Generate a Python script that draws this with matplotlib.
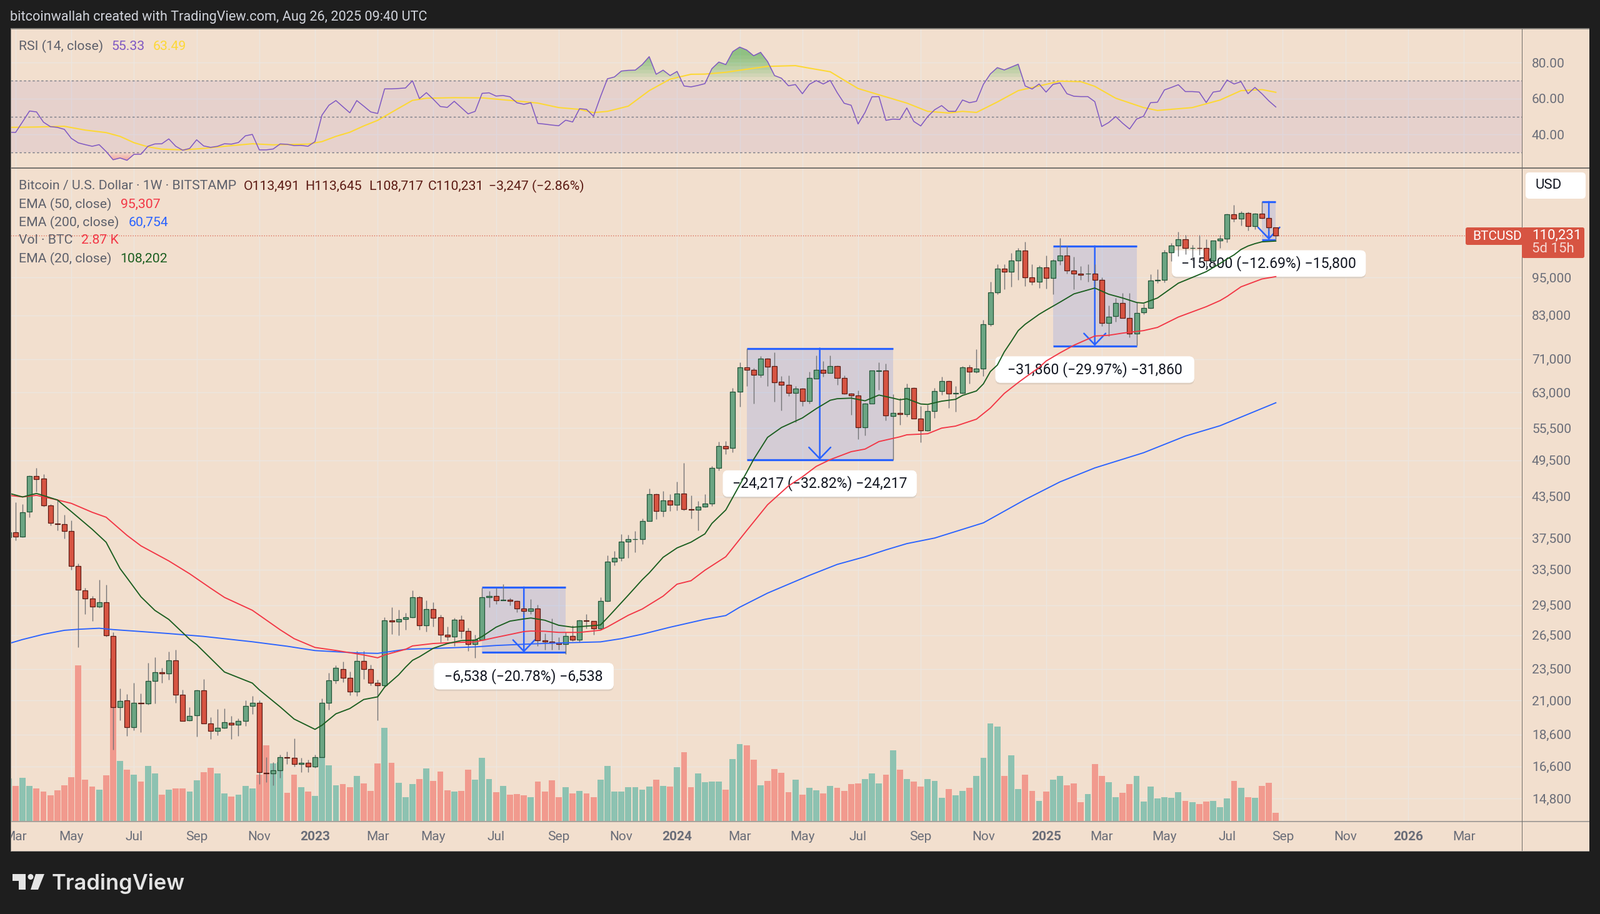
import numpy as np
import matplotlib
matplotlib.use("Agg")
import matplotlib.pyplot as plt
from matplotlib.patches import Rectangle, FancyBboxPatch, Polygon, Circle
from matplotlib.ticker import FixedLocator, FixedFormatter, NullLocator
from matplotlib import patheffects as pe

plt.rcParams["font.family"] = "Roboto"

# weekly bars, index 0 = week of 2023-01-02
first_week = -44
opens = [37560,38290,37680,41200,46740,46400,42100,39500,39350,38400,
33900,31100,30190,29370,29800,26450,20520,21000,19100,20830,
20780,22500,23200,23100,24250,21450,19540,19910,21750,19360,
18830,19050,19370,19240,19520,20570,20810,16230,16190,16370,
17150,17110,16730,16820,16590,17160,20810,22570,23500,22780,
21680,24150,23480,22380,22140,27930,27850,28050,28240,30350,
27420,29100,28280,26550,26370,27980,26900,25660,26060,30330,
30470,30040,30110,29970,29150,28900,29150,26000,25920,25800,
25680,26440,26090,27950,27860,27120,29950,34430,34920,36980,
37300,37350,39850,43820,41300,42900,42200,43900,41550,41450,
41900,42400,48200,52060,51700,63200,68970,68290,67100,71140,
69250,65500,64750,62880,63840,61150,66300,68380,67600,69300,
66400,62800,62300,55650,60600,68000,68100,57950,58550,58300,
64000,57400,55000,59000,63400,65700,62800,62900,68900,67800,
68700,80450,90000,98000,97000,101000,104700,95000,93600,98600,
94800,101000,102800,97500,96400,96300,96350,94100,80800,82700,
86800,82300,77800,83800,85200,93900,94300,104000,106500,108900,
105500,105600,105500,100900,108300,109200,119000,117200,119600,114200,
119200,117400,113491]
highs = [45400,42570,42300,46900,48200,47100,42300,42900,40700,39900,
34200,31400,30500,32300,31700,26800,21900,21500,22350,21550,
24000,24500,23600,25000,25150,21800,20500,21800,22650,19800,
20350,20400,19880,19700,21000,21350,21000,17150,16850,17300,
17500,18350,17100,17000,17300,21150,23180,23800,24100,23300,
25050,25050,23850,22600,28250,29260,29050,28700,31100,30500,
30000,29800,28500,27350,28200,28450,27200,26520,31400,31000,
31400,31800,30300,30000,29400,30150,29550,26650,28150,26300,
26800,27420,28000,28600,27900,30350,35200,35780,37980,37950,
38400,40200,44700,43900,44300,43800,45800,49000,43640,42800,
43800,48500,52900,53000,64000,70200,73670,68800,71700,71300,
72650,66800,67000,64550,64000,67800,71900,70500,71900,69400,
67000,62900,63500,60700,68250,70200,69900,62700,61800,65000,
64200,60000,60300,64000,66700,65750,64450,69300,69500,73600,
81600,93500,99600,99600,103600,105500,107900,99700,99200,102700,
101500,109400,106400,102300,98900,99500,99700,95000,85900,88300,
89800,89800,86900,86500,96000,97900,104900,107500,111900,110700,
106800,110500,109000,108500,110500,119400,123200,120500,120000,119500,
124450,117600,113645]
lows = [37100,37190,37560,40400,44200,41900,39200,38500,37400,33500,
25400,28550,27900,29200,26400,17600,19560,18510,18860,18760,
20700,20760,22350,22600,20800,19500,19500,18470,19340,18280,
18530,19020,18300,18510,19170,20020,15590,15700,15500,15950,
16730,16600,16240,16270,16500,17150,20300,22300,22400,21400,
21350,22650,22170,19550,22000,26600,26500,27050,28200,27000,
26850,27350,25830,26000,25500,26200,25050,24450,26000,29300,
29620,30000,29450,28780,28570,28600,25480,25160,25160,25160,
24780,25980,25850,27130,26530,27050,29900,34000,34500,34920,
35600,36700,39800,40100,40500,41250,41400,41400,40180,38500,
41800,42000,47700,50600,50900,59850,64450,60600,66500,64450,
61000,59100,62200,56700,60000,60600,66200,66700,67500,64800,
62700,58150,53400,54100,60550,63570,57000,49600,56200,57800,
57400,52700,54900,57500,62500,59700,58900,62800,65000,67550,
66800,79800,89400,91000,92000,94300,92200,92500,91500,91400,
89500,99400,96250,91100,94100,93500,92000,79900,77000,81200,
82200,76700,74500,83400,85100,93100,93300,100800,102600,103200,
101000,102900,98300,99000,105500,107800,115900,114300,112300,112800,
117300,112400,108717]
closes = [38290,37640,41100,46740,46300,42100,39600,39350,38400,33900,
31200,30190,29370,29800,26500,20520,20980,19100,20800,20780,
22500,23240,23100,24250,21450,19520,19880,21750,19360,18850,
19040,19420,19240,19500,20570,20810,16240,16190,16370,17150,
17110,16730,16800,16590,17150,20810,22570,23600,22780,21680,
24150,23480,22380,22140,27940,27850,28080,28240,30350,27420,
29100,28180,26550,26370,27980,26900,25660,26060,30330,30470,
30040,30110,29970,29150,28900,29150,26000,25930,25800,25680,
26440,26090,27950,27860,27120,29940,34430,34920,36980,37300,
37350,39850,43820,41300,42900,42200,43900,41600,41450,41900,
42400,48200,52060,51610,63200,68970,68290,67100,71140,69140,
65400,64700,62880,63840,61150,66350,68380,67600,69300,66400,
62800,62300,55660,60600,68100,68100,58000,58550,58300,64000,
57450,55000,59000,63400,65600,62800,62900,68900,67800,68700,
80450,90000,98000,97000,101000,104700,95000,93600,98430,94800,
101000,102800,97500,96250,95850,96350,94100,80800,82500,86800,
82300,77700,83700,85200,93900,94300,104000,106500,108900,105500,
105600,105500,100900,108300,109200,119000,117200,119600,114200,119200,
117500,113500,110231]
volumes = [13.8,11.4,14.0,11.4,10.7,9.7,8.5,10.1,11.7,14.3,
50,13.5,11.2,10.3,14.8,52.2,19.4,16.6,15.1,12.9,
17.9,15.5,8.7,10.3,10.7,10.7,9.6,13.3,15.8,17.3,
15.5,9.1,8.0,8.7,11.4,10.7,15,24.4,18.6,19,
9.3,15,11,9.7,8.3,20.6,18.1,11.6,12,11.1,
14.6,12.2,9.8,18.6,30,18.8,12.5,7.8,12,13.7,
17,13,16,10.1,9.6,9.9,16.6,13.4,20.5,13.7,
9.4,11.5,8.7,8.9,8.5,7.8,12.8,9.6,13.2,7.8,
11,9,9.8,9.1,7.8,13.5,17.9,9.6,9.7,11,
11,10.3,11.2,13.5,11.5,11.2,17.4,22.2,11,15.4,
12.6,12.8,12.8,10.3,20.1,24.8,24.5,19.8,11.7,13,
16.9,15.7,9.5,13.4,8.7,10.9,10,9.1,11.5,10.8,
9.8,12.1,12.3,13.6,15.5,12.3,15.1,22.9,16.6,13.7,
12.8,11.2,13.7,13,7.6,10.4,8.5,9.8,10.8,14.7,
20.5,31.4,30.5,14.6,21.3,10.4,15.1,9.8,6.7,9.7,
13.4,14.7,11.7,12.3,6.3,8.9,18.5,14.7,12.7,7.9,
9.3,12.1,14.7,6.5,11.3,7.4,7.9,7.7,9.5,6.7,
6.3,5.7,6.5,6.7,4.6,7.4,13.1,10.9,7.9,7.7,
11.5,12.5,2.87]
rsi_values = [41.3,41.2,47.1,53.1,52.6,46.9,44.4,44,42.9,37.9,
35.4,34.4,33.5,34.4,30.6,26,27,25.7,29,29.1,
33.5,34.8,34.9,37.6,33.5,31.3,32.3,37.1,33.7,32.9,
33.5,34.9,34.7,35.6,39.3,40.1,31.5,31.5,32,34.8,
34.6,33.9,34,33.5,36.1,50.8,56.3,58.9,55.5,52.1,
58.9,55.8,52.6,51.7,65.4,65.4,65.6,65.9,69.9,60,
63.3,59.6,55.6,55.1,58.5,55,51.5,52.9,62.9,63.2,
61.4,61.7,61,57.7,56.8,57.7,46.2,45.8,45.3,44.9,
48,47,54.4,54,50.2,61,71,72,75.3,75.7,
75.8,78.9,83.3,73.5,75.8,72.8,75.1,67,66.5,67.3,
68.3,76.6,80.3,78.9,86.1,88.6,87,83.8,85.7,80.6,
72.8,71.3,67.1,67.8,62.7,67.9,70,68.1,70.1,63.3,
57.4,56.3,45.9,52.3,61,61.1,47.9,48.6,48.4,54.8,
47.3,44.8,50,53.8,56.1,52.9,52.9,59.2,57.7,58.5,
67.9,73.7,77.2,75.9,77.5,79.1,67,65.3,68.1,63.6,
67.9,68.7,62.7,61.3,61.1,61.1,58.3,44.5,46.7,50,
46.3,43.1,48.6,50.2,57.7,58,64.8,66.2,67.7,63.9,
63.9,63.6,57.8,63.6,64.2,70.3,68.1,69.4,62.7,66.2,
62.7,58.7,55.33]

rsi_ma_weeks = [-44,-40,-36,-33,-30,-28,-26,-24,-22,-19,-16,-13,-9,-6,-1,1,3,5,7,9,12,14,16,20,24,28,32,35,38,40,42,45,
48,51,54,56,59,62,65,69,71,74,76,78,81,85,88,91,93,95,98,101,105,107,110,112,115,119,121,126,130,133,136,138]
rsi_ma_values = [44,44.2,44.6,42.5,41.1,39,35.5,33.2,31.9,31.5,32.3,33.5,34.9,34.3,34.7,36.1,39,41.3,44.8,47.9,54.6,59,60.2,60.5,60.4,59,57.5,55,54,52.2,52.9,55.8,
64.4,70.8,73.5,73.6,74.6,76.3,77.9,78.3,76.9,74.9,70.2,65.6,62.1,57.5,52.9,52,52.9,52.3,58.1,64.4,67.9,69.7,69.4,66.8,60.2,55,53.4,55,59.2,64.4,65,63.49]

ema20_weeks = [-44,-42,-40,-37,-35,-32,-30,-28,-27,-25,-23,-21,-18,-17,-15,-13,-10,-9,-8,-5,-3,0,1,3,5,7,9,10,12,13,14,15,17,19,21,23,24,26,28,30,31,33,35,37,40,41,42,45,47,48,50,52,54,56,57,59,62,63,65,67,70,72,74,75,77,79,81,83,84,85,87,88,90,92,93,95,96,97,98,99,100,101,102,104,105,107,109,112,114,116,118,119,121,124,127,128,130,131,132,133,134,135,136,138]
ema20_values = [44000,43410,43960,42950,41200,38680,36930,33620,32520,30400,28960,28040,26120,25630,24410,23240,22560,22340,21810,20520,19650,18940,19220,20020,20400,21070,21270,22020,23000,23640,24230,24540,25300,25720,26000,26040,26380,27270,27870,28090,28180,27960,27460,27270,27430,27490,28200,30580,32310,33100,35000,36190,36940,38050,39490,41440,47400,49640,53700,55620,57550,59500,61300,61640,61770,61180,62450,61770,61400,61640,60490,60400,61100,61500,62370,63370,65000,67920,69500,72860,75620,78600,80400,83300,84550,87000,89600,91500,89500,88300,86900,86700,88300,93100,96000,97000,99900,101500,103000,105000,106300,107200,107900,108202]

ema50_weeks = [-44,-42,-40,-37,-35,-32,-30,-27,-25,-21,-18,-15,-13,-9,-5,-3,0,3,7,9,10,13,14,17,20,23,26,28,30,31,33,35,38,41,42,45,47,50,52,54,56,59,62,65,68,70,72,74,77,79,81,84,85,88,90,92,95,97,99,101,102,104,105,107,109,112,114,116,119,121,124,128,130,131,133,136,138]
ema50_values = [43660,43420,43660,42950,42430,41100,40380,37850,36460,34550,33000,31350,30330,28970,27020,26180,25370,25100,24700,24450,24700,25200,25510,25730,25820,25880,26300,26570,26850,26900,26880,26770,26770,26980,27300,28460,29100,30470,31800,32190,33420,35070,38500,42220,45150,46640,48420,49600,51020,51500,52900,53800,54190,54400,55500,55900,57300,59630,62810,65300,66500,68900,70500,72600,74600,77100,77300,77900,78600,79500,82500,85600,87500,88800,91900,94500,95307]

ema200_weeks = [-44,-42,-39,-36,-34,-31,-29,-26,-21,-16,-9,-4,0,6,9,13,17,23,26,31,35,41,44,47,51,56,59,61,65,71,75,79,82,85,89,96,102,107,112,119,125,130,138]
ema200_values = [25720,26100,26590,26970,27070,27170,27040,26900,26660,26390,25890,25480,25090,24880,24840,25200,25280,25420,25550,25690,25780,25880,26180,26600,27270,28050,28430,29290,30800,32810,34120,35070,35940,36750,37490,39580,43010,45810,48150,50830,53940,55980,60754]

price_ticks = [95000,83000,71000,63000,55500,49500,43500,37500,33500,29500,26500,23500,21000,18600,16600,14800]
rsi_ticks = [80,60,40]
month_weeks = [-43,-35,-26,-17,-8,0,9,17,26,35,44,52,61,70,78,87,96,105,113,122,131,139,148,157,165]
month_labels = ["Mar","May","Jul","Sep","Nov","2023","Mar","May","Jul","Sep","Nov","2024","Mar","May","Jul","Sep","Nov","2025","Mar","May","Jul","Sep","Nov","2026","Mar"]

# measured drawdowns
drop_start = [24,62,106,136]
drop_end = [36,83,118,138]
drop_top = [31463,73788,106306,124507]
drop_bottom = [24925,49571,74446,108707]
drop_text = ["\u22126,538 (\u221220.78%) \u22126,538","\u221224,217 (\u221232.82%) \u221224,217",
             "\u221231,860 (\u221229.97%) \u221231,860","\u221215,800 (\u221212.69%) \u221215,800"]
drop_label_width = [287, 310, 318, 310]

W, H = 2560, 1463
BG = "#f2dfce"; DARK = "#1e1e1e"; GRID = "#ece6e0"; BORDER = "#8a8680"
UP = "#6ba583"; DN = "#d75442"; UPE = "#225437"; DNE = "#5b1a13"; WICK = "#737375"
VUP = "#8dc2b1"; VDN = "#f19a8e"
BLUE = "#2962ff"; RED = "#f23645"; GREEN = "#1b5e20"; PURPLE = "#7e57c2"; YELLOW = "#fdd835"
LBL = "#5d606b"; AX = "#6a6d78"

fig = plt.figure(figsize=(W/100, H/100), dpi=100, facecolor=DARK)
def rect(x0, y0, x1, y1):
    return [x0/W, 1-y1/H, (x1-x0)/W, (y1-y0)/H]
def fp(x, y):
    return x/W, 1-y/H

fig.add_artist(Rectangle(fp(17,1362), (2543-17)/W, (1362-46)/H, transform=fig.transFigure, fc=BG, ec="none", zorder=-5))

PX0, PX1 = 17, 2435
xlim = ((PX0-504)/11.14, (PX1-504)/11.14)
weeks = np.arange(first_week, first_week+len(closes))
o, h, l, c = map(np.array, (opens, highs, lows, closes))
v = np.array(volumes)
up = c >= o

# RSI pane
ar = fig.add_axes(rect(PX0, 46, PX1, 269), facecolor="none")
ar.set_xlim(*xlim); ar.set_ylim(21.4, 98.8)
ar.axhspan(30, 70, color=PURPLE, alpha=0.10, lw=0, zorder=1)
for lev in (70, 50, 30):
    ar.axhline(lev, color="#787b86", lw=1.0, ls=(0, (2.5, 2.5)), zorder=2)
rs = np.array(rsi_values, float)
for th in (70, 72, 74, 76, 78, 80, 82, 84):
    ar.fill_between(weeks, th, rs, where=rs > th, interpolate=True, color="#4caf50", alpha=0.10, lw=0, zorder=2)
for th in (30, 29, 28, 27):
    ar.fill_between(weeks, rs, th, where=rs < th, interpolate=True, color="#f23645", alpha=0.08, lw=0, zorder=2)
ar.plot(weeks, rs, color=PURPLE, lw=1.1, zorder=4)
ar.plot(rsi_ma_weeks, rsi_ma_values, color=YELLOW, lw=1.5, zorder=3)
ar.yaxis.tick_right()
ar.set_yticks(rsi_ticks); ar.set_yticklabels([f"{t:.2f}" for t in rsi_ticks], fontsize=15, color=AX)
ar.tick_params(axis="y", length=0, pad=11.5)
ar.set_xticks(month_weeks); ar.tick_params(axis="x", length=0, labelbottom=False)
ar.grid(True, color=GRID, lw=1); ar.set_axisbelow(True)
for s in ar.spines.values():
    s.set_visible(False)

# price pane
ax = fig.add_axes(rect(PX0, 269, PX1, 1315), facecolor="none")
ax.set_yscale("log")
ax.set_xlim(*xlim)
ax.set_ylim(13630, 140400)

# volume scale shares the x axis
av = ax.twinx(); av.set_ylim(0, 209.2); av.set_axis_off()
ax.bar(weeks, v, width=0.88, bottom=0, color=[VUP if u else VDN for u in up], lw=0, zorder=2, transform=av.transData, clip_on=True)
ax.set_xlim(*xlim); ax.set_ylim(13630, 140400)

ax.yaxis.tick_right()
ax.yaxis.set_major_locator(FixedLocator(price_ticks))
ax.yaxis.set_major_formatter(FixedFormatter([f"{t:,}" for t in price_ticks]))
ax.yaxis.set_minor_locator(NullLocator())
ax.tick_params(axis="y", which="both", length=0, pad=11.5, labelsize=15, labelcolor=AX)
ax.set_xticks(month_weeks); ax.set_xticklabels(month_labels, fontsize=15, color=AX)
for lab, txt in zip(ax.get_xticklabels(), month_labels):
    if txt.startswith("20"):
        lab.set_fontweight("bold")
ax.tick_params(axis="x", length=0, pad=11)
ax.grid(True, color=GRID, lw=1); ax.set_axisbelow(True)
for s in ax.spines.values():
    s.set_visible(False)

# measure drawings
for s, e, t, b, txt, bw in zip(drop_start, drop_end, drop_top, drop_bottom, drop_text, drop_label_width):
    ax.fill_between([s, e], b, t, color=BLUE, alpha=0.15, lw=0, zorder=1)
    ax.hlines([t, b], s, e, color=BLUE, lw=2.3, zorder=1.2)
    mid = (s+e)/2
    ax.annotate("", xy=(mid, b), xytext=(mid, t), zorder=1.2,
                arrowprops=dict(arrowstyle="->,head_length=1.3,head_width=1.25", color=BLUE, lw=1.8,
                                shrinkA=0, shrinkB=0, mutation_scale=10))
    px, py = ax.transData.transform((mid, b))
    card = FancyBboxPatch((px-bw/2+8, py-38-21+8), bw-16, 42-16, boxstyle="round,pad=8,rounding_size=8",
                          transform=None, fc="white", ec="none", zorder=1.5)
    card.set_path_effects([pe.withSimplePatchShadow(offset=(0, -2), alpha=0.12, shadow_rgbFace="#555555"), pe.Normal()])
    ax.add_patch(card)
    ax.annotate(txt, xy=(mid, b), xytext=(0, -38*0.72), textcoords="offset points", ha="center", va="center",
                fontsize=16.6, color="#131722", zorder=1.6)

# candles
ax.vlines(weeks, l, h, color=WICK, lw=1.0, zorder=3)
ax.bar(weeks, np.maximum(np.abs(c-o), 1), bottom=np.minimum(o, c), width=0.72,
       color=[UP if u else DN for u in up], edgecolor=[UPE if u else DNE for u in up], lw=0.9, zorder=3.2)

# moving averages
ax.plot(ema200_weeks, ema200_values, color=BLUE, lw=1.35, zorder=4)
ax.plot(ema50_weeks, ema50_values, color=RED, lw=1.35, zorder=4)
ax.plot(ema20_weeks, ema20_values, color=GREEN, lw=1.35, zorder=4)
ax.axhline(closes[-1], color=DN, lw=0.9, ls=(0, (1, 2)), zorder=1.1)

# frame
def hline(y, x0=17, x1=2543, col=BORDER, lw=1.0):
    fig.add_artist(Rectangle(fp(x0, y+lw/2), (x1-x0)/W, lw/H, transform=fig.transFigure, fc=col, ec="none", zorder=6))
def vline(x, y0, y1, col=BORDER, lw=1.0):
    fig.add_artist(Rectangle(fp(x-lw/2, y1), lw/W, (y1-y0)/H, transform=fig.transFigure, fc=col, ec="none", zorder=6))
fig.add_artist(Rectangle((0, 0), 17/W, 1, transform=fig.transFigure, fc=DARK, ec="none", zorder=5))
hline(46, lw=1.5); hline(269, lw=2.0, col="#77736e"); hline(1315, lw=1.5, col="#a8a29c"); hline(1362, lw=1.0, col="#a8a29c")
vline(2435, 46, 1362, col="#6f6c68"); vline(17, 46, 1362)

def T(x, y, s, color=LBL, size=15.3, ha="left", weight="normal", z=8):
    fx, fy = fp(x, y)
    return fig.text(fx, fy, s, color=color, fontsize=size, ha=ha, va="center", fontweight=weight, zorder=z)

T(16, 28, "bitcoinwallah created with TradingView.com, Aug 26, 2025 09:40 UTC", color="#d1d4dc", size=15.6)
T(30, 74, "RSI (14, close)")
T(178, 74, f"{rsi_values[-1]:.2f}", color=PURPLE)
T(245, 74, f"{rsi_ma_values[-1]:.2f}", color=YELLOW)
T(30, 298, "Bitcoin / U.S. Dollar \u00b7 1W \u00b7 BITSTAMP")
T(390, 298, f"O{opens[-1]:,}", color=DNE)
T(488, 298, f"H{highs[-1]:,}", color=DNE)
T(590, 298, f"L{lows[-1]:,}", color=DNE)
T(685, 298, f"C{closes[-1]:,}", color=DNE)
T(782, 298, "\u22123,247 (\u22122.86%)", color=DNE)
T(30, 327, "EMA (50, close)"); T(193, 327, f"{ema50_values[-1]:,}", color=RED)
T(30, 356, "EMA (200, close)"); T(206, 356, f"{ema200_values[-1]:,}", color=BLUE)
T(30, 385, "Vol \u00b7 BTC"); T(130, 385, f"{volumes[-1]:.2f} K", color=RED)
T(30, 414, "EMA (20, close)"); T(192, 414, f"{ema20_values[-1]:,}", color=GREEN)

# right-hand tags
def box(x0, y0, x1, y1, fc, r=3, z=7):
    fig.add_artist(FancyBboxPatch((x0+r, H-y1+r), x1-x0-2*r, y1-y0-2*r, boxstyle=f"round,pad={r},rounding_size={r}",
                                  transform=None, fc=fc, ec="none", zorder=z))
box(2441, 276, 2537, 318, "white", r=6)
T(2478, 297, "USD", color="#131722", size=16, ha="center")
box(2345, 364, 2437, 392, DN)
box(2435, 364, 2535, 413, DN)
T(2356, 378, "BTCUSD", color="white", size=15)
T(2451, 377, f"{closes[-1]:,}", color="white", size=16)
T(2451, 398, "5d 15h", color="#f7d9d4", size=16)

# footer logo
LOGO = "#e4e4e4"
logo = [[(20, 1399), (41, 1399), (41, 1424), (30, 1424), (30, 1410), (20, 1410)],
        [(57, 1399), (71, 1399), (61, 1424), (49, 1424)]]
for pts in logo:
    xy = np.array(pts, float)
    xy[:, 1] = H - xy[:, 1]
    fig.add_artist(Polygon(xy, closed=True, transform=None, fc=LOGO, ec="none", zorder=8))
fig.add_artist(Circle((49, H-1403.5), 4.5, transform=None, fc=LOGO, ec="none", zorder=8))
fx, fy = fp(83, 1424)
fig.text(fx, fy, "TradingView", color=LOGO, fontsize=24.8, family="Inter", fontweight="semibold", ha="left", va="baseline", zorder=8)

assert len(opens) == len(highs) == len(lows) == len(closes) == len(volumes) == len(rsi_values) == 183
assert len(ema20_weeks) == len(ema20_values) and len(ema50_weeks) == len(ema50_values) and len(ema200_weeks) == len(ema200_values) and len(rsi_ma_weeks) == len(rsi_ma_values)
fig.savefig("out.png", dpi=100, facecolor=DARK)
